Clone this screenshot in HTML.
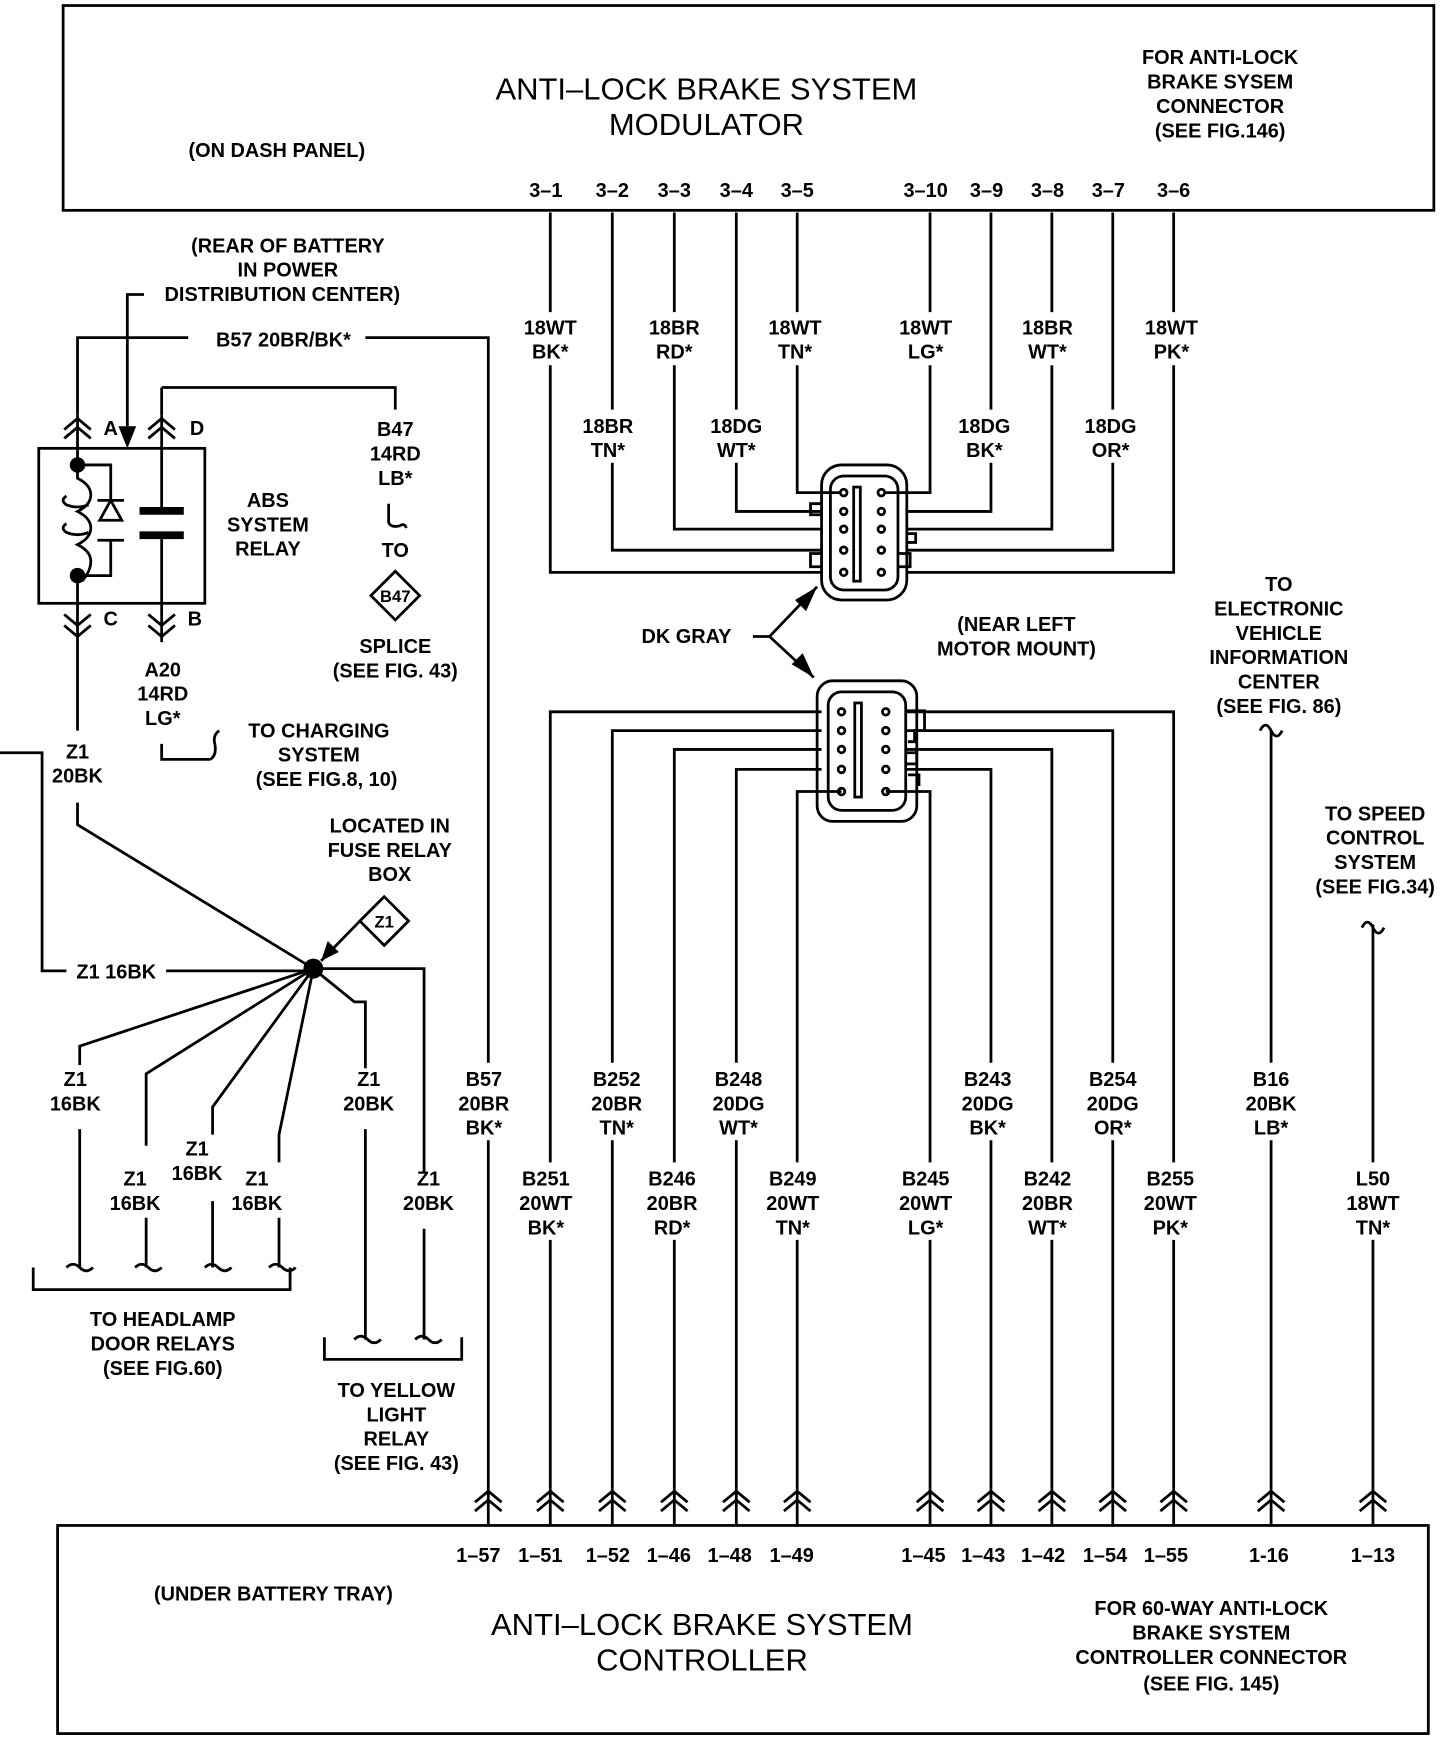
<!DOCTYPE html>
<html><head><meta charset="utf-8"><style>
html,body{margin:0;padding:0;background:#fff;width:1456px;height:1738px;overflow:hidden}
svg{display:block}
text{font-family:"Liberation Sans",sans-serif;font-weight:bold;fill:#000;text-anchor:middle}
.s{font-size:18px}.b{font-size:28px;font-weight:normal}
</style></head><body>
<svg width="1456" height="1738" viewBox="0 0 1315 1570" preserveAspectRatio="none" xmlns="http://www.w3.org/2000/svg">
<g fill="none" stroke="#000" stroke-width="2.5">
<rect x="57" y="5" width="1238" height="185"/>
<rect x="52" y="1378" width="1238" height="188"/>
<path d="M497 192V282M497 330V517H742"/>
<path d="M553 192V370M553 418V497H742"/>
<path d="M609 192V282M609 330V478H742"/>
<path d="M665 192V370M665 418V462H742"/>
<path d="M720 192V282M720 330V445H760"/>
<path d="M840 192V282M840 330V445H800"/>
<path d="M895 192V370M895 418V462H820"/>
<path d="M950 192V282M950 330V478H820"/>
<path d="M1005 192V370M1005 418V497H820"/>
<path d="M1060 192V282M1060 330V517H820"/>
<rect x="742" y="420" width="77" height="122" rx="18"/>
<rect x="750" y="430" width="61" height="103" rx="12"/>
<rect x="771" y="440" width="6" height="85"/>
<path d="M742 455H732V465H742M742 500H732V512H742M811 500H822V512H811M819 482H827V490H819"/>
<g fill="#fff"><circle cx="762" cy="445" r="3"/><circle cx="762" cy="462" r="3"/><circle cx="762" cy="478" r="3"/><circle cx="762" cy="497" r="3"/><circle cx="762" cy="517" r="3"/><circle cx="796" cy="445" r="3"/><circle cx="796" cy="462" r="3"/><circle cx="796" cy="478" r="3"/><circle cx="796" cy="497" r="3"/><circle cx="796" cy="517" r="3"/></g>
<path d="M680 575H695L738 530M695 575L735 612"/>
<rect x="738" y="615" width="90" height="127" rx="14"/>
<rect x="748" y="625" width="70" height="107" rx="12"/>
<rect x="772" y="635" width="6" height="85"/>
<path d="M818 642H835V660H826V670H820M818 680H828V690H818M820 700H830V710"/>
<g fill="#fff"><circle cx="760" cy="643" r="3"/><circle cx="760" cy="660" r="3"/><circle cx="760" cy="677" r="3"/><circle cx="760" cy="695" r="3"/><circle cx="760" cy="715" r="3"/><circle cx="800" cy="643" r="3"/><circle cx="800" cy="660" r="3"/><circle cx="800" cy="677" r="3"/><circle cx="800" cy="695" r="3"/><circle cx="800" cy="715" r="3"/></g>
<path d="M742 643H497V1050M497 1120V1345"/>
<path d="M742 660H553V960M553 1030V1345"/>
<path d="M742 677H609V1050M609 1120V1345"/>
<path d="M742 695H665V960M665 1030V1345"/>
<path d="M760 715H720V1050M720 1120V1345"/>
<path d="M818 643H1060V1050M1060 1120V1345"/>
<path d="M818 660H1005V960M1005 1030V1345"/>
<path d="M818 677H950V1050M950 1120V1345"/>
<path d="M818 695H895V960M895 1030V1345"/>
<path d="M800 715H840V1050M840 1120V1345"/>
<path d="M1148 660V960M1148 1030V1345"/>
<path d="M1240 835V1050M1240 1120V1345"/>
<path d="M1138 660q5 -10 10 0t10 0M1230 838q5 -10 10 0t10 0"/>
<path d="M70 375V305H170M330 305H441V960M441 1030V1345"/>
<path d="M130 266H115V385"/>
<rect x="35" y="405" width="150" height="140"/>
<path d="M70 375V420M146 375V458M146 487V580"/>
<path d="M58 388L70 378L82 388M58 396L70 386L82 396M134 388L146 378L158 388M134 396L146 386L158 396"/>
<path d="M70 420V432q12 6 12 15t-12 15q12 6 12 15t-12 15q12 6 12 15t-8 18 M70 420H100V452M100 488V520H70M88 452H112M88 488H112 M70 520V545"/>
<path d="M60 448q-6 4 0 8q10 4 20 0 M60 473q-6 4 0 8q10 4 20 0"/>
<path d="M146 350H357V370M146 375V350"/>
<path d="M70 545V660M70 725V745L283 875M146 672V686H190M190 686q6 -4 4 -14q-2 -8 4 -12"/>
<path d="M58 555L70 565L82 555M58 565L70 575L82 565M134 555L146 565L158 555M134 565L146 575L158 565"/>
<path d="M351 455V472q2 5 10 3q4 -3 6 2"/>
<path d="M335 538L357 516L379 538L357 560Z"/>
<path d="M0 680H38V877H60M150 877H283"/>
<path d="M325 832L347 810L369 832L347 854Z"/>
<path d="M325 832L290 868"/>
<path d="M283 875H383V1060M383 1110V1210"/>
<path d="M283 875L320 905H330V965M330 1020V1210"/>
<path d="M283 875L72 945V962M72 1020V1145"/>
<path d="M283 875L132 970V1035M132 1100V1145"/>
<path d="M283 875L192 1000V1025M192 1085V1145"/>
<path d="M283 875L252 1025V1050M252 1100V1145"/>
<path d="M60 1145q6 -6 12 0t12 0M122 1145q6 -6 12 0t12 0M185 1145q6 -6 12 0t12 0M243 1145q6 -6 12 0t12 0M320 1210q6 -6 12 0t12 0M375 1210q6 -6 12 0t12 0"/>
<path d="M30 1145V1165H262V1145M293 1208V1228H417V1208"/>
<g id="ch"><path d="M429 1357L441 1347L453 1357M429 1365L441 1355L453 1365M441 1345V1378"/></g>
</g>
<g fill="#000">
<path d="M107 385H123L115 405Z"/>
<path d="M90 470L100 452L110 470Z" fill="#fff" stroke="#000" stroke-width="2.5"/>
<rect x="126" y="458" width="40" height="7"/><rect x="126" y="480" width="40" height="7"/>
<circle cx="70" cy="420" r="7"/><circle cx="70" cy="520" r="7"/>
<circle cx="283" cy="875" r="9"/>
<path d="M738 530L718 542L728 552Z"/><path d="M735 612L715 600L725 590Z"/>
<path d="M290 868L296 850L306 860Z"/>
</g>
<g fill="none" stroke="#000" stroke-width="2.5">
<use href="#ch" x="56"/><use href="#ch" x="112"/><use href="#ch" x="168"/><use href="#ch" x="224"/><use href="#ch" x="279"/><use href="#ch" x="399"/><use href="#ch" x="454"/><use href="#ch" x="509"/><use href="#ch" x="564"/><use href="#ch" x="619"/><use href="#ch" x="707"/><use href="#ch" x="799"/>
</g>
<text class="b" x="638" y="90">ANTI–LOCK BRAKE SYSTEM</text>
<text class="b" x="638" y="122">MODULATOR</text>
<text class="s" x="250" y="142">(ON DASH PANEL)</text>
<g class="s"><text x="1102" y="58">FOR ANTI-LOCK</text><text x="1102" y="80">BRAKE SYSEM</text><text x="1102" y="102">CONNECTOR</text><text x="1102" y="124">(SEE FIG.146)</text></g>
<g class="s"><text x="493" y="178">3–1</text><text x="553" y="178">3–2</text><text x="609" y="178">3–3</text><text x="665" y="178">3–4</text><text x="720" y="178">3–5</text><text x="836" y="178">3–10</text><text x="891" y="178">3–9</text><text x="946" y="178">3–8</text><text x="1001" y="178">3–7</text><text x="1060" y="178">3–6</text></g>
<g class="s">
<text x="497" y="302">18WT</text><text x="497" y="324">BK*</text>
<text x="609" y="302">18BR</text><text x="609" y="324">RD*</text>
<text x="718" y="302">18WT</text><text x="718" y="324">TN*</text>
<text x="836" y="302">18WT</text><text x="836" y="324">LG*</text>
<text x="946" y="302">18BR</text><text x="946" y="324">WT*</text>
<text x="1058" y="302">18WT</text><text x="1058" y="324">PK*</text>
<text x="549" y="391">18BR</text><text x="549" y="413">TN*</text>
<text x="665" y="391">18DG</text><text x="665" y="413">WT*</text>
<text x="889" y="391">18DG</text><text x="889" y="413">BK*</text>
<text x="1003" y="391">18DG</text><text x="1003" y="413">OR*</text>
<text x="260" y="228">(REAR OF BATTERY</text><text x="260" y="250">IN POWER</text><text x="255" y="272">DISTRIBUTION CENTER)</text>
<text x="256" y="313">B57 20BR/BK*</text>
<text x="100" y="393">A</text><text x="178" y="393">D</text><text x="100" y="565">C</text><text x="176" y="565">B</text>
<text x="242" y="458">ABS</text><text x="242" y="480">SYSTEM</text><text x="242" y="502">RELAY</text>
<text x="357" y="394">B47</text><text x="357" y="416">14RD</text><text x="357" y="438">LB*</text>
<text x="357" y="503">TO</text><text x="357" y="544" style="font-size:15px">B47</text>
<text x="357" y="590">SPLICE</text><text x="357" y="612">(SEE FIG. 43)</text>
<text x="147" y="611">A20</text><text x="147" y="633">14RD</text><text x="147" y="655">LG*</text>
<text x="288" y="666">TO CHARGING</text><text x="288" y="688">SYSTEM</text><text x="295" y="710">(SEE FIG.8, 10)</text>
<text x="70" y="685">Z1</text><text x="70" y="707">20BK</text>
<text x="352" y="752">LOCATED IN</text><text x="352" y="774">FUSE RELAY</text><text x="352" y="796">BOX</text>
<text x="347" y="838" style="font-size:15px">Z1</text>
<text x="105" y="884">Z1 16BK</text>
<text x="68" y="981">Z1</text><text x="68" y="1003">16BK</text>
<text x="122" y="1071">Z1</text><text x="122" y="1093">16BK</text>
<text x="178" y="1044">Z1</text><text x="178" y="1066">16BK</text>
<text x="232" y="1071">Z1</text><text x="232" y="1093">16BK</text>
<text x="333" y="981">Z1</text><text x="333" y="1003">20BK</text>
<text x="387" y="1071">Z1</text><text x="387" y="1093">20BK</text>
<text x="147" y="1198">TO HEADLAMP</text><text x="147" y="1220">DOOR RELAYS</text><text x="147" y="1242">(SEE FIG.60)</text>
<text x="358" y="1262">TO YELLOW</text><text x="358" y="1284">LIGHT</text><text x="358" y="1306">RELAY</text><text x="358" y="1328">(SEE FIG. 43)</text>
<text x="620" y="581">DK GRAY</text>
<text x="918" y="570">(NEAR LEFT</text><text x="918" y="592">MOTOR MOUNT)</text>
<text x="1155" y="534">TO</text><text x="1155" y="556">ELECTRONIC</text><text x="1155" y="578">VEHICLE</text><text x="1155" y="600">INFORMATION</text><text x="1155" y="622">CENTER</text><text x="1155" y="644">(SEE FIG. 86)</text>
<text x="1242" y="741">TO SPEED</text><text x="1242" y="763">CONTROL</text><text x="1242" y="785">SYSTEM</text><text x="1242" y="807">(SEE FIG.34)</text>
<text x="437" y="981">B57</text><text x="437" y="1003">20BR</text><text x="437" y="1025">BK*</text>
<text x="557" y="981">B252</text><text x="557" y="1003">20BR</text><text x="557" y="1025">TN*</text>
<text x="667" y="981">B248</text><text x="667" y="1003">20DG</text><text x="667" y="1025">WT*</text>
<text x="892" y="981">B243</text><text x="892" y="1003">20DG</text><text x="892" y="1025">BK*</text>
<text x="1005" y="981">B254</text><text x="1005" y="1003">20DG</text><text x="1005" y="1025">OR*</text>
<text x="1148" y="981">B16</text><text x="1148" y="1003">20BK</text><text x="1148" y="1025">LB*</text>
<text x="493" y="1071">B251</text><text x="493" y="1093">20WT</text><text x="493" y="1115">BK*</text>
<text x="607" y="1071">B246</text><text x="607" y="1093">20BR</text><text x="607" y="1115">RD*</text>
<text x="716" y="1071">B249</text><text x="716" y="1093">20WT</text><text x="716" y="1115">TN*</text>
<text x="836" y="1071">B245</text><text x="836" y="1093">20WT</text><text x="836" y="1115">LG*</text>
<text x="946" y="1071">B242</text><text x="946" y="1093">20BR</text><text x="946" y="1115">WT*</text>
<text x="1057" y="1071">B255</text><text x="1057" y="1093">20WT</text><text x="1057" y="1115">PK*</text>
<text x="1240" y="1071">L50</text><text x="1240" y="1093">18WT</text><text x="1240" y="1115">TN*</text>
<text x="432" y="1411">1–57</text><text x="488" y="1411">1–51</text><text x="549" y="1411">1–52</text><text x="604" y="1411">1–46</text><text x="659" y="1411">1–48</text><text x="715" y="1411">1–49</text><text x="834" y="1411">1–45</text><text x="888" y="1411">1–43</text><text x="942" y="1411">1–42</text><text x="998" y="1411">1–54</text><text x="1053" y="1411">1–55</text><text x="1146" y="1411">1-16</text><text x="1240" y="1411">1–13</text>
<text x="247" y="1446">(UNDER BATTERY TRAY)</text>
<text x="1094" y="1459">FOR 60-WAY ANTI-LOCK</text><text x="1094" y="1481">BRAKE SYSTEM</text><text x="1094" y="1503">CONTROLLER CONNECTOR</text><text x="1094" y="1527">(SEE FIG. 145)</text>
</g>
<text class="b" x="634" y="1477">ANTI–LOCK BRAKE SYSTEM</text>
<text class="b" x="634" y="1509">CONTROLLER</text>
</svg>
</body></html>
